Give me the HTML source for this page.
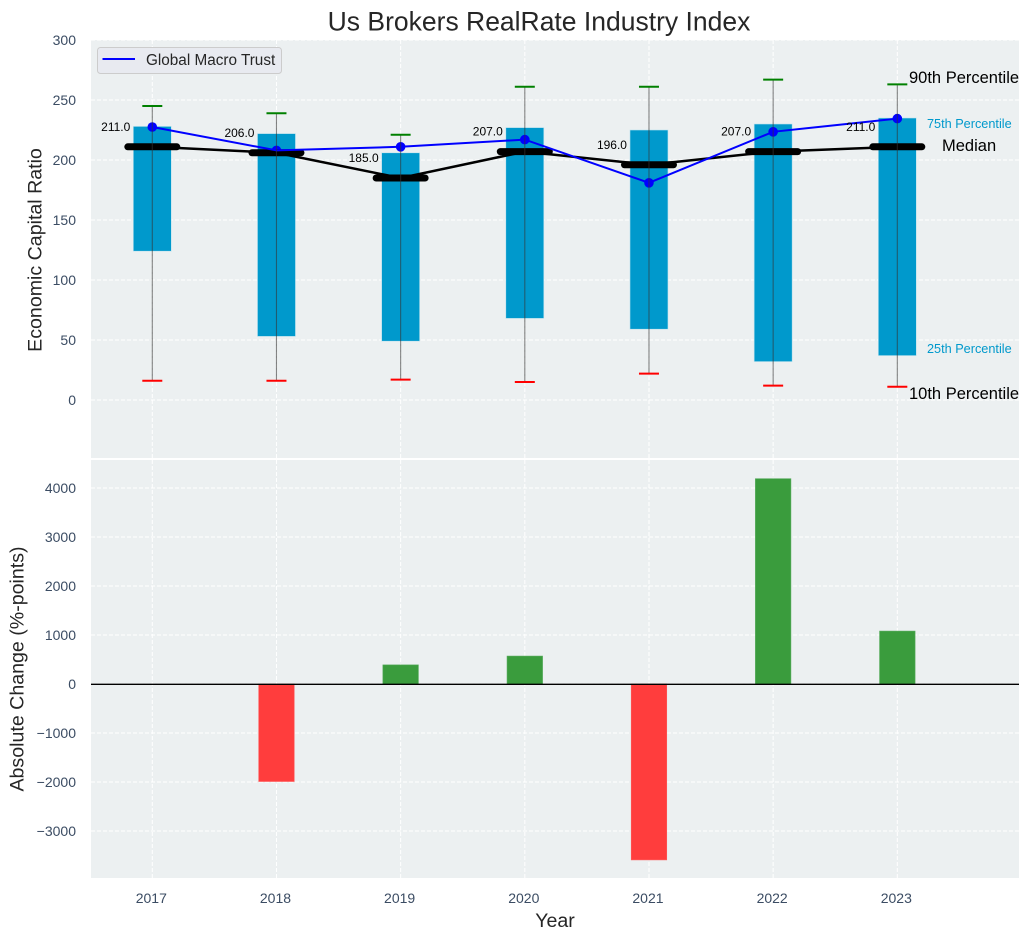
<!DOCTYPE html>
<html lang="en">
<head>
<meta charset="utf-8">
<title>Us Brokers RealRate Industry Index</title>
<style>
html,body{margin:0;padding:0;background:#fff;}
svg{display:block;font-family:"Liberation Sans",Arial,sans-serif;}
</style>
</head>
<body>
<svg id="chart" xmlns="http://www.w3.org/2000/svg" width="1030" height="940" viewBox="0 0 1030 940">
  <rect x="0" y="0" width="1030" height="940" fill="#ffffff"/>
  <text x="539" y="30.5" text-anchor="middle" font-size="26.5px" fill="#262626">Us Brokers RealRate Industry Index</text>
  <rect x="91" y="40" width="928" height="418" fill="#ecf0f1"/>
  <rect x="91" y="460" width="928" height="418" fill="#ecf0f1"/>
  <g id="grid-layer"></g>
  <g id="top-layer"></g>
  <g id="bottom-layer"></g>
  <g id="tick-layer"></g>
  <text transform="translate(41.5,250) rotate(-90)" text-anchor="middle" font-size="19.6px" fill="#262626">Economic Capital Ratio</text>
  <text transform="translate(23.5,669) rotate(-90)" text-anchor="middle" font-size="19.6px" fill="#262626">Absolute Change (%-points)</text>
  <text x="555" y="927" text-anchor="middle" font-size="19.6px" fill="#262626">Year</text>
  <g>
    <rect x="97.5" y="47.5" width="184" height="26" rx="3" fill="#e8eaf0" stroke="#cccccc" stroke-width="1"/>
    <line x1="102.5" y1="59" x2="135" y2="59" stroke="#0000ff" stroke-width="2"/>
    <text x="146" y="65" font-size="15.3px" fill="#262626">Global Macro Trust</text>
  </g>
  <g>
    <text x="909" y="83" font-size="16.5px" fill="#000000">90th Percentile</text>
    <text x="927" y="128" font-size="12.7px" fill="#0099cc">75th Percentile</text>
    <text x="942" y="151" font-size="16.5px" fill="#000000">Median</text>
    <text x="927" y="353" font-size="12.7px" fill="#0099cc">25th Percentile</text>
    <text x="909" y="399" font-size="16.5px" fill="#000000">10th Percentile</text>
  </g>
</svg>
<script>
const years = [2017, 2018, 2019, 2020, 2021, 2022, 2023];
const p90 = [245, 239, 221, 261, 261, 267, 263];
const p75 = [228, 222, 206, 227, 225, 230, 235];
const medians = [211, 206, 185, 207, 196, 207, 211];
const p25 = [124, 53, 49, 68, 59, 32, 37];
const p10 = [16, 16, 17, 15, 22, 12, 11];
const globalMacroTrust = [227.5, 208, 211, 217, 181, 223.5, 234.5];
const absoluteChange = [0, -1990, 390, 570, -3590, 4190, 1080];
const topTicks = [0, 50, 100, 150, 200, 250, 300];
const bottomTicks = [-3000, -2000, -1000, 0, 1000, 2000, 3000, 4000];

const NS = 'http://www.w3.org/2000/svg';
const X_STEP = 124.17;
function xPos(i) { return 152.3 + X_STEP * i; }
function yTop(v) { return 400 - 1.2 * v; }
function yBottom(v) { return 684 - 0.049 * v; }
function make(tag, parent, attrs, text) {
  const el = document.createElementNS(NS, tag);
  for (const k in attrs) el.setAttribute(k, attrs[k]);
  if (text !== undefined) el.textContent = text;
  parent.appendChild(el);
  return el;
}
const gridLayer = document.getElementById('grid-layer');
const topLayer = document.getElementById('top-layer');
const bottomLayer = document.getElementById('bottom-layer');
const tickLayer = document.getElementById('tick-layer');
const gridStyle = { stroke: '#ffffff', 'stroke-width': 1, 'stroke-dasharray': '4 2' };
const tickColor = '#3b4c63';

topTicks.forEach(function (t) {
  const g = make('line', gridLayer, Object.assign({ x1: 91, x2: 1019, y1: yTop(t), y2: yTop(t) }, gridStyle));
  
  
  const l = make('text', tickLayer, { x: 76, y: yTop(t) + 5, 'text-anchor': 'end', 'font-size': '14px', fill: tickColor }, String(t));
  
  
});
bottomTicks.forEach(function (t) {
  const g = make('line', gridLayer, Object.assign({ x1: 91, x2: 1019, y1: yBottom(t), y2: yBottom(t) }, gridStyle));
  
  
  const label = t < 0 ? '\u2212' + Math.abs(t) : String(t);
  const l = make('text', tickLayer, { x: 76, y: yBottom(t) + 5, 'text-anchor': 'end', 'font-size': '14px', fill: tickColor }, label);
  
  
});
years.forEach(function (year, i) {
  const g1 = make('line', gridLayer, Object.assign({ x1: xPos(i), x2: xPos(i), y1: 40, y2: 458 }, gridStyle));
  
  
  const g2 = make('line', gridLayer, Object.assign({ x1: xPos(i), x2: xPos(i), y1: 460, y2: 878 }, gridStyle));
  
  
  const l = make('text', tickLayer, { x: xPos(i) - 1, y: 903, 'text-anchor': 'middle', 'font-size': '14px', fill: tickColor }, String(year));
  
  
});

/* boxes */
const boxHalf = 0.153 * X_STEP;
years.forEach(function (year, i) {
  const box = make('rect', topLayer, {
    x: xPos(i) - boxHalf, width: 2 * boxHalf,
    y: yTop(p75[i]), height: yTop(p25[i]) - yTop(p75[i]),
    fill: '#0099cc', stroke: '#bfe3ee', 'stroke-width': 0.6
  });
  
  
});
/* median line */
const medianLine = make('polyline', topLayer, {
  points: medians.map(function (v, i) { return xPos(i) + ',' + yTop(v); }).join(' '),
  fill: 'none', stroke: '#000000', 'stroke-width': 2.5
});


/* global macro trust points sit beneath the median markers */
years.forEach(function (year, i) {
  const p = make('circle', topLayer, { cx: xPos(i), cy: yTop(globalMacroTrust[i]), r: 4.8, fill: '#0000ff' });
  
  
});
/* median markers */
years.forEach(function (year, i) {
  const m = make('line', topLayer, { x1: xPos(i) - 24.5, x2: xPos(i) + 24.5, y1: yTop(medians[i]), y2: yTop(medians[i]), stroke: '#000000', 'stroke-width': 7, 'stroke-linecap': 'round' });
  
  
});
/* global macro trust line runs over the median markers */
const trustLine = make('polyline', topLayer, {
  points: globalMacroTrust.map(function (v, i) { return xPos(i) + ',' + yTop(v); }).join(' '),
  fill: 'none', stroke: '#0000ff', 'stroke-width': 2
});


/* whiskers, caps, value labels */
years.forEach(function (year, i) {
  const w = make('line', topLayer, { x1: xPos(i), x2: xPos(i), y1: yTop(p10[i]), y2: yTop(p90[i]), stroke: '#333333', 'stroke-opacity': 0.6, 'stroke-width': 1.1 });
  
  
  const hi = make('line', topLayer, { x1: xPos(i) - 10, x2: xPos(i) + 10, y1: yTop(p90[i]), y2: yTop(p90[i]), stroke: '#008000', 'stroke-width': 2 });
  
  
  const lo = make('line', topLayer, { x1: xPos(i) - 10, x2: xPos(i) + 10, y1: yTop(p10[i]), y2: yTop(p10[i]), stroke: '#ff0000', 'stroke-width': 2 });
  
  
  const t = make('text', topLayer, { x: xPos(i) - 22, y: yTop(medians[i] + 13.3), 'text-anchor': 'end', 'font-size': '12px', fill: '#000000' }, medians[i].toFixed(1));
  
  
});

/* bottom bars */
const barHalf = 0.143 * X_STEP;
years.forEach(function (year, i) {
  const v = absoluteChange[i];
  const b = make('rect', bottomLayer, {
    x: xPos(i) - barHalf, width: 2 * barHalf,
    y: Math.min(yBottom(v), yBottom(0)), height: Math.abs(yBottom(v) - yBottom(0)),
    fill: v >= 0 ? '#3a9c3d' : '#ff3d3d',
    stroke: v >= 0 ? '#55aa5a' : '#ff5a5a', 'stroke-width': 0.6
  });
  
  
});
const zeroLine = make('line', bottomLayer, { x1: 91, x2: 1019, y1: yBottom(0) + 0.3, y2: yBottom(0) + 0.3, stroke: '#000000', 'stroke-width': 1.4 });


</script>
</body>
</html>
